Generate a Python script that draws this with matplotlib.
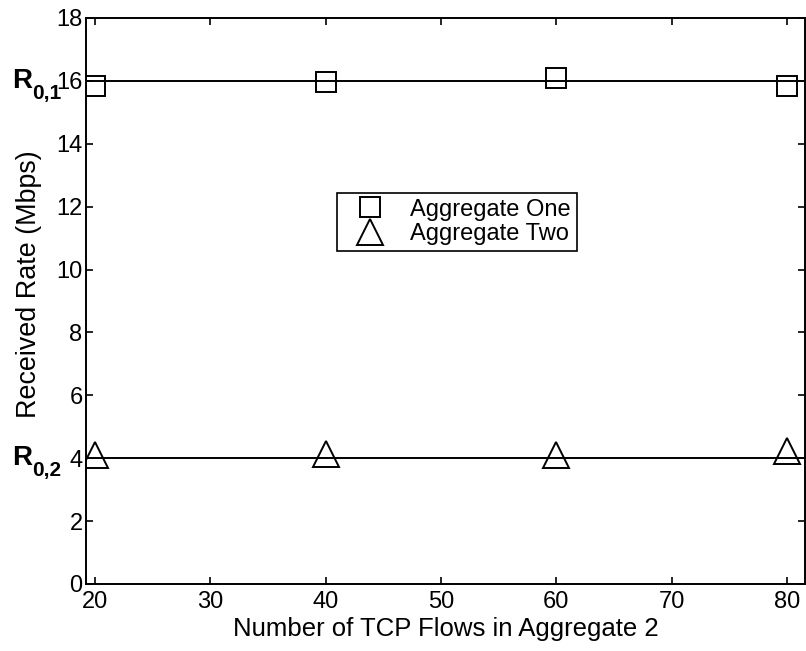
import matplotlib
matplotlib.use("Agg")
import matplotlib.pyplot as plt

plt.rcParams['font.family'] = ['Liberation Sans', 'DejaVu Sans']

flows = [20, 40, 60, 80]
agg_one = [15.85, 15.97, 16.1, 15.85]
agg_two = [4.1, 4.14, 4.1, 4.23]
r01 = 16.0
r02 = 4.0

fig = plt.figure(figsize=(8.06, 6.51), dpi=100)
ax = fig.add_axes([86 / 806, 67 / 651, 719 / 806, 566 / 651])

ax.axhline(r01, color='black', lw=1.4)
ax.axhline(r02, color='black', lw=1.4)
ax.plot(flows, agg_one, 's', ms=15, mfc='none', mec='black', mew=1.4, label='Aggregate One')
ax.plot(flows, agg_two, '^', ms=19, mfc='none', mec='black', mew=1.4, label='Aggregate Two')

ax.set_xlim(19.22, 81.56)
ax.set_ylim(0, 18)
ax.set_xticks([20, 30, 40, 50, 60, 70, 80])
ax.set_yticks(range(0, 19, 2))
ax.tick_params(direction='in', top=True, right=True, labelsize=17, length=5, width=1.2)
ax.tick_params(axis='x', pad=5)
ax.tick_params(axis='y', pad=2.5)
for s in ax.spines.values():
    s.set_linewidth(1.4)

ax.set_xlabel('Number of TCP Flows in Aggregate 2', fontsize=18.5, labelpad=3)
ax.set_ylabel('Received Rate (Mbps)', fontsize=19.4)
ax.yaxis.set_label_coords(-0.061, 0.53)

# bold R labels with subscripts, left of the y tick labels
for val, sub in [(r01, '0,1'), (r02, '0,2')]:
    ax.annotate('R', xy=(0, val), xycoords=('axes fraction', 'data'),
                xytext=(-53.5, -5), textcoords='offset points',
                fontsize=20, fontweight='bold', ha='left', va='baseline')
    ax.annotate(sub, xy=(0, val), xycoords=('axes fraction', 'data'),
                xytext=(-39, -13), textcoords='offset points',
                fontsize=15, fontweight='bold', ha='left', va='baseline')

leg = ax.legend(loc='center', bbox_to_anchor=(0.516, 0.64), fontsize=17, frameon=True,
                fancybox=False, edgecolor='black', handletextpad=0.55, borderpad=0.25,
                labelspacing=0.1, handlelength=2.3, framealpha=1)
leg.get_frame().set_linewidth(1.2)

fig.savefig('out.png', dpi=100)
